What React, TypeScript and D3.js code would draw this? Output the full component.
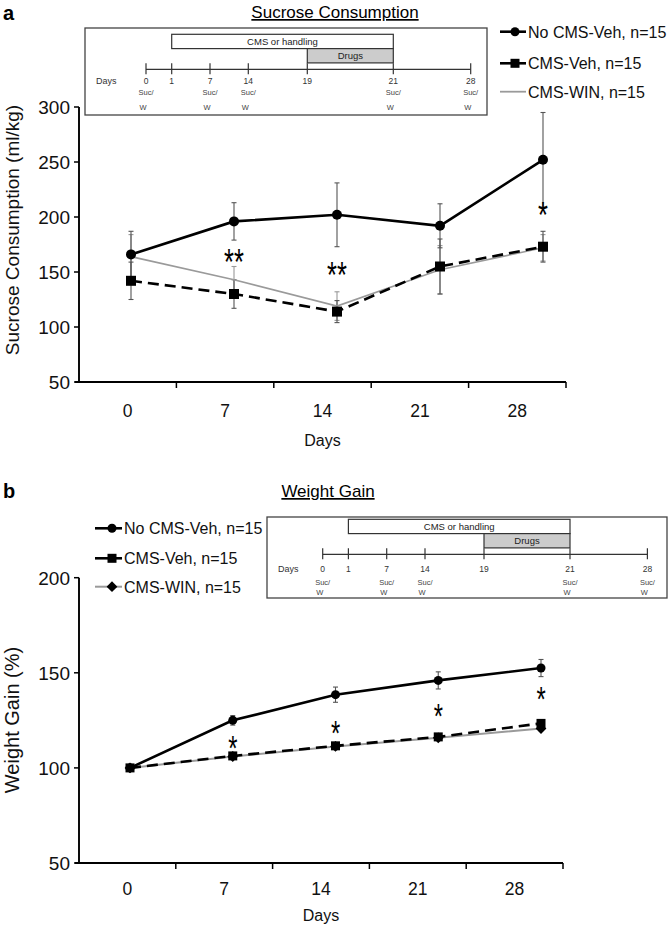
import React from "react";
import * as d3 from "d3";

const FONT = "'Liberation Sans', Arial, Helvetica, sans-serif";

// ---------- data ----------
const DAYS = [0, 7, 14, 21, 28];
const DAY_LABELS = ["0", "7", "14", "21", "28"];
const SUC_TICKS = [50, 100, 150, 200, 250, 300];
const WG_TICKS = [50, 100, 150, 200];
const SERIES_NAMES = ["No CMS-Veh, n=15", "CMS-Veh, n=15", "CMS-WIN, n=15"];

const SUC_NOCMS = [166, 196, 202, 192, 252];
const SUC_NOCMS_ERR = [21, 17, 29, 20, 43];
const SUC_CMS = [142, 130, 114, 155, 173];
const SUC_CMS_ERR = [17, 13, 10, 25, 14];
const SUC_WIN = [164, 143, 119, 152, 172];
const SUC_WIN_ERR = [20, 12, 13, 22, 12];
const SUC_SIG = ["", "**", "**", "", "*"];
const SUC_SIG_Y = [NaN, 167, 154.5, NaN, 209];

const WG_NOCMS = [100, 125, 138.5, 146, 152.5];
const WG_NOCMS_ERR = [1, 2.5, 4, 4.5, 4.5];
const WG_CMS = [100, 106.3, 111.6, 116.3, 123.4];
const WG_CMS_ERR = [1, 1.2, 1.2, 1.2, 1.5];
const WG_WIN = [100, 106, 111.3, 115.8, 120.7];
const WG_WIN_ERR = [1, 1, 1, 1, 1.2];
const WG_SIG = ["", "*", "*", "*", "*"];
const WG_SIG_Y = [NaN, 114.6, 122.5, 131.4, 140.4];

const INSET_DAYS = [0, 1, 7, 14, 19, 21, 28];
const INSET_SUC_DAYS = [0, 7, 14, 21, 28];
const INSET_CMS_LABEL = "CMS or handling";
const INSET_DRUG_LABEL = "Drugs";

// ---------- helpers ----------
type Series = {
  name: string;
  values: number[];
  err: number[];
  stroke: string;
  width: number;
  dash?: string;
  marker: "circle" | "square" | "diamond" | null;
  errColor: string;
};

function Marker({ type, x, y, size, fill }: { type: string | null; x: number; y: number; size: number; fill: string }) {
  if (type === "circle") return <circle cx={x} cy={y} r={size} fill={fill} />;
  if (type === "square")
    return <rect x={x - size} y={y - size} width={size * 2} height={size * 2} fill={fill} />;
  if (type === "diamond") {
    const s = size * 1.2;
    return <path d={`M${x},${y - s}L${x + s},${y}L${x},${y + s}L${x - s},${y}Z`} fill={fill} />;
  }
  return null;
}

function Inset({ boxX, boxY, boxW, boxH, lineY, lineX, numDy, sucDy, wDy }: any) {
  // timeline schematic scale (piecewise, as drawn in the original schematic)
  const tl = d3
    .scaleLinear()
    .domain(INSET_DAYS)
    .range([0, 25.7, 64, 102.3, 161.3, 247.3, 324.7].map((d) => d + lineX));
  return (
    <g fontFamily={FONT}>
      <rect x={boxX} y={boxY} width={boxW} height={boxH} fill="#fff" stroke="#444" strokeWidth={1.3} />
      <rect x={tl(1)} y={lineY - 35} width={tl(21) - tl(1)} height={14.3} fill="#fff" stroke="#333" strokeWidth={1.2} />
      <text x={(tl(1) + tl(21)) / 2} y={lineY - 24.5} fontSize={9.5} textAnchor="middle" fill="#222">
        {INSET_CMS_LABEL}
      </text>
      <rect x={tl(19)} y={lineY - 20.7} width={tl(21) - tl(19)} height={14.3} fill="#ccc" stroke="#333" strokeWidth={1.2} />
      <text x={(tl(19) + tl(21)) / 2} y={lineY - 10} fontSize={9.5} textAnchor="middle" fill="#222">
        {INSET_DRUG_LABEL}
      </text>
      <line x1={tl(0)} x2={tl(28)} y1={lineY} y2={lineY} stroke="#333" strokeWidth={1.2} />
      {INSET_DAYS.map((d) => (
        <g key={d}>
          <line x1={tl(d)} x2={tl(d)} y1={lineY - 6} y2={lineY + 5} stroke="#333" strokeWidth={1.2} />
          <text x={tl(d)} y={lineY + numDy} fontSize={8.5} textAnchor="middle" fill="#333">
            {d}
          </text>
        </g>
      ))}
      <text x={boxX + 11} y={lineY + numDy} fontSize={9} fill="#333">
        Days
      </text>
      {INSET_SUC_DAYS.map((d) => (
        <g key={"s" + d}>
          <text x={tl(d)} y={lineY + sucDy} fontSize={7.5} textAnchor="middle" fill="#444">
            Suc/
          </text>
          <text x={tl(d) - 3} y={lineY + wDy} fontSize={7.5} textAnchor="middle" fill="#444">
            W
          </text>
        </g>
      ))}
    </g>
  );
}

function Legend({ x1, x2, mx, tx, ys, series, msize }: any) {
  return (
    <g fontFamily={FONT}>
      {series.map((s: Series, i: number) => (
        <g key={i}>
          <line x1={x1} x2={x2} y1={ys[i]} y2={ys[i]} stroke={s.stroke} strokeWidth={s.marker ? s.width : 1.8} />
          <Marker type={s.marker} x={mx} y={ys[i]} size={msize} fill="#000" />
          <text x={tx} y={ys[i] + 5.8} fontSize={16} fill="#111">
            {s.name}
          </text>
        </g>
      ))}
    </g>
  );
}

function Panel({ yDomain, yRange, yTicks, axisRange, ptRange, series, sig, sigY, sigSize, msize, yTitle, yTitleY, yTitleSize, tickLabelY, daysY }: any) {
  const y = d3.scaleLinear().domain(yDomain).range(yRange);
  const band = d3.scaleBand<number>().domain(DAYS).range(axisRange);
  const xp = d3.scalePoint<number>().domain(DAYS).range(ptRange);
  const y0 = yRange[0];
  const bounds = DAYS.map((d) => (band(d) as number) + band.bandwidth());
  return (
    <g fontFamily={FONT}>
      {/* axes */}
      <line x1={axisRange[0]} x2={axisRange[0]} y1={yRange[1]} y2={y0} stroke="#000" strokeWidth={1.9} />
      <line x1={axisRange[0] - 4} x2={axisRange[1]} y1={y0} y2={y0} stroke="#000" strokeWidth={1.9} />
      {yTicks.map((t: number) => (
        <g key={t}>
          <line x1={axisRange[0] - 5} x2={axisRange[0]} y1={y(t)} y2={y(t)} stroke="#000" strokeWidth={1.5} />
          <text x={axisRange[0] - 9} y={y(t) + 7} fontSize={19} textAnchor="end" fill="#111">
            {t}
          </text>
        </g>
      ))}
      {bounds.map((b: number, i: number) => (
        <line key={i} x1={b} x2={b} y1={y0} y2={y0 + 6} stroke="#000" strokeWidth={1.5} />
      ))}
      {DAYS.map((d, i) => (
        <text key={d} x={(band(d) as number) + band.bandwidth() / 2} y={tickLabelY} fontSize={17.5} textAnchor="middle" fill="#111">
          {DAY_LABELS[i]}
        </text>
      ))}
      <text x={(axisRange[0] + axisRange[1]) / 2} y={daysY} fontSize={16} textAnchor="middle" fill="#111">
        Days
      </text>
      <text transform={`translate(19,${yTitleY}) rotate(-90)`} fontSize={yTitleSize} textAnchor="middle" fill="#111">
        {yTitle}
      </text>
      {/* error bars */}
      {series.map((s: Series, si: number) =>
        s.values.map((v, i) => {
          const cx = xp(DAYS[i]) as number;
          return (
            <g key={si + "-" + i} stroke={s.errColor} strokeWidth={1.1}>
              <line x1={cx} x2={cx} y1={y(v - s.err[i])} y2={y(v + s.err[i])} />
              <line x1={cx - 2.5} x2={cx + 2.5} y1={y(v - s.err[i])} y2={y(v - s.err[i])} />
              <line x1={cx - 2.5} x2={cx + 2.5} y1={y(v + s.err[i])} y2={y(v + s.err[i])} />
            </g>
          );
        })
      )}
      {/* lines and markers */}
      {series.map((s: Series, si: number) => {
        const gen = d3
          .line<number>()
          .x((_, i) => xp(DAYS[i]) as number)
          .y((v) => y(v));
        return (
          <g key={"l" + si}>
            <path d={gen(s.values) || ""} fill="none" stroke={s.stroke} strokeWidth={s.width} strokeDasharray={s.dash} />
            {s.values.map((v, i) => (
              <Marker key={i} type={s.marker} x={xp(DAYS[i]) as number} y={y(v)} size={msize} fill={s.marker ? "#000" : "none"} />
            ))}
          </g>
        );
      })}
      {sig.map((t: string, i: number) =>
        t ? (
          <text
            key={"sig" + i}
            transform={`translate(${xp(DAYS[i]) as number},${y(sigY[i])}) scale(0.85,1.25)`}
            y={sigSize * 0.57}
            fontSize={sigSize}
            textAnchor="middle"
            fill="#000"
          >
            {t}
          </text>
        ) : null
      )}
    </g>
  );
}

export default function App() {
  const sucSeries: Series[] = [
    { name: SERIES_NAMES[2], values: SUC_WIN, err: SUC_WIN_ERR, stroke: "#9a9a9a", width: 1.6, marker: null, errColor: "#999" },
    { name: SERIES_NAMES[1], values: SUC_CMS, err: SUC_CMS_ERR, stroke: "#000", width: 2.6, dash: "11,6", marker: "square", errColor: "#555" },
    { name: SERIES_NAMES[0], values: SUC_NOCMS, err: SUC_NOCMS_ERR, stroke: "#000", width: 2.6, marker: "circle", errColor: "#555" },
  ];
  const wgSeries: Series[] = [
    { name: SERIES_NAMES[2], values: WG_WIN, err: WG_WIN_ERR, stroke: "#9a9a9a", width: 2, marker: "diamond", errColor: "#999" },
    { name: SERIES_NAMES[1], values: WG_CMS, err: WG_CMS_ERR, stroke: "#000", width: 2.6, dash: "11,6", marker: "square", errColor: "#555" },
    { name: SERIES_NAMES[0], values: WG_NOCMS, err: WG_NOCMS_ERR, stroke: "#000", width: 2.6, marker: "circle", errColor: "#555" },
  ];
  const legendOrder = (arr: Series[]) => [arr[2], arr[1], arr[0]];
  return (
    <svg width={670} height={929} style={{ position: "absolute", left: 0, top: 0, background: "#fff" }}>
      <rect width={670} height={929} fill="#fff" />
      {/* Panel a */}
      <text x={3} y={20} fontFamily={FONT} fontSize={20} fontWeight="bold">a</text>
      <text x={335} y={18} fontFamily={FONT} fontSize={17} textAnchor="middle" style={{ textDecoration: "underline" }}>
        Sucrose Consumption
      </text>
      <Inset boxX={85} boxY={28} boxW={402} boxH={87} lineY={69.3} lineX={146} numDy={15} sucDy={26} wDy={41} />
      <Legend x1={500} x2={526} mx={515} tx={528} ys={[31.7, 63.3, 91.7]} series={legendOrder(sucSeries)} msize={4.5} />
      <Panel
        yDomain={[50, 300]}
        yRange={[382, 107]}
        yTicks={SUC_TICKS}
        axisRange={[79, 566]}
        ptRange={[131, 543]}
        series={sucSeries}
        sig={SUC_SIG}
        sigY={SUC_SIG_Y}
        sigSize={30}
        msize={5}
        yTitle="Sucrose Consumption (ml/kg)"
        yTitleY={230}
        yTitleSize={19}
        tickLabelY={417}
        daysY={446}
      />
      {/* Panel b */}
      <text x={3} y={498} fontFamily={FONT} fontSize={20} fontWeight="bold">b</text>
      <text x={328} y={497} fontFamily={FONT} fontSize={17} textAnchor="middle" style={{ textDecoration: "underline" }}>
        Weight Gain
      </text>
      <Inset boxX={267} boxY={517} boxW={400} boxH={81} lineY={554.3} lineX={322.7} numDy={18} sucDy={31} wDy={41} />
      <Legend x1={95} x2={122} mx={112} tx={124} ys={[528.3, 558.3, 586.7]} series={legendOrder(wgSeries)} msize={4.5} />
      <Panel
        yDomain={[50, 200]}
        yRange={[863, 577.7]}
        yTicks={WG_TICKS}
        axisRange={[79, 563]}
        ptRange={[130, 541]}
        series={wgSeries}
        sig={WG_SIG}
        sigY={WG_SIG_Y}
        sigSize={28}
        msize={4.5}
        yTitle="Weight Gain (%)"
        yTitleY={720}
        yTitleSize={20}
        tickLabelY={895}
        daysY={921}
      />
    </svg>
  );
}
